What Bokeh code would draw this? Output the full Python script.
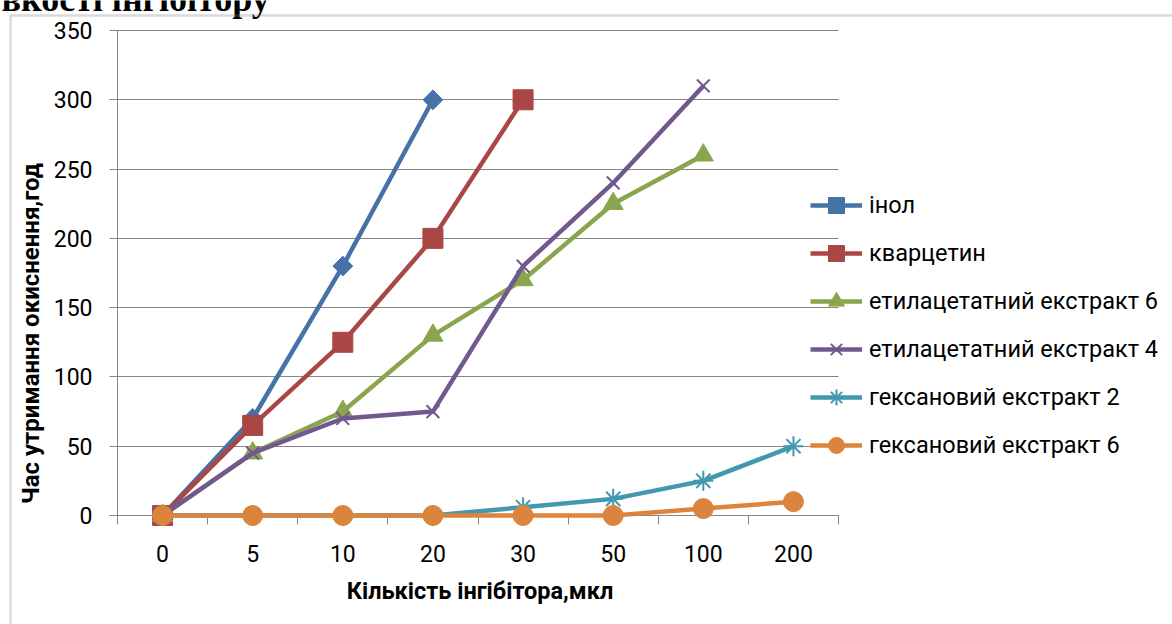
import numpy as np
from bokeh.plotting import figure
from bokeh.models import (Range1d, LinearAxis, FixedTicker, Legend, LegendItem,
                          Label, BoxAnnotation)
from bokeh.embed import file_html
from bokeh.resources import INLINE

# Inhibitor amount (categories on the x axis), µl
cats = ["0", "5", "10", "20", "30", "50", "100", "200"]

# Oxidation-retention time, hours
inol = [0, 70, 180, 300]
kvarcetyn = [0, 65, 125, 200, 300]
etyl6 = [0, 45, 75, 130, 170, 225, 260]
etyl4 = [0, 45, 70, 75, 180, 240, 310]
heks2 = [0, 0, 0, 0, 6, 12, 25, 50]
heks6 = [0, 0, 0, 0, 0, 0, 5, 10]

names = ["інол", "кварцетин", "етилацетатний екстракт 6",
         "етилацетатний екстракт 4", "гексановий екстракт 2",
         "гексановий екстракт 6"]
yticks = [0, 50, 100, 150, 200, 250, 300, 350]
ymax = 350

W, H = 1172, 624
# plot-area edges in page pixels
PL, PR, PT, PB = 117, 838, 30, 515
GREY = "#868686"
FONT = "Roboto"

n = len(cats)
xpx = (PR - PL) / n          # pixels per category band
ypx = (PB - PT) / ymax       # pixels per hour

# each category occupies one unit band; points sit in the band centres
centres = [i + 0.5 for i in range(n)]

# the frame covers the whole page so that axes, legend and captions
# can be placed freely around the plot area
p = figure(width=W, height=H, output_backend="svg", toolbar_location=None,
           x_range=Range1d(-PL / xpx, (W - PL) / xpx),
           y_range=Range1d(ymax - (H - PT) / ypx, ymax + PT / ypx),
           x_axis_location=None, y_axis_location=None,
           min_border=0)
p.outline_line_color = None
p.background_fill_color = "white"
p.border_fill_color = "white"
for g in p.grid:
    g.visible = False

# value axis; its inward ticks double as horizontal grid lines
yaxis = LinearAxis(fixed_location=0, bounds=(0, ymax),
                   ticker=FixedTicker(ticks=yticks), level="underlay")
yaxis.axis_line_color = GREY
yaxis.major_tick_line_color = GREY
yaxis.major_tick_out = 8
yaxis.major_tick_in = PR - PL
yaxis.minor_tick_line_color = None
yaxis.major_label_text_font = FONT
yaxis.major_label_text_font_size = "23px"
yaxis.major_label_text_color = "black"
yaxis.major_label_standoff = 17
p.add_layout(yaxis, "left")

# category axis: labels centred in each band, ticks on the band edges
xaxis = LinearAxis(fixed_location=0, bounds=(0, n),
                   ticker=FixedTicker(ticks=centres, minor_ticks=list(range(n + 1))),
                   major_label_overrides={c: lab for c, lab in zip(centres, cats)},
                   level="underlay")
xaxis.axis_line_color = GREY
xaxis.major_tick_line_color = None
xaxis.major_tick_out = 0
xaxis.major_tick_in = 0
xaxis.minor_tick_line_color = GREY
xaxis.minor_tick_out = 9
xaxis.minor_tick_in = 0
xaxis.major_label_text_font = FONT
xaxis.major_label_text_font_size = "23px"
xaxis.major_label_text_color = "black"
xaxis.major_label_standoff = 20
p.add_layout(xaxis, "below")

series = [
    (inol, "#4572A7", dict(marker="square", size=14, angle=np.pi / 4)),
    (kvarcetyn, "#AA4643", dict(marker="square", size=20)),
    (etyl6, "#89A54E", dict(marker="triangle", size=20)),
    (etyl4, "#71588F", dict(marker="x", size=18, line_width=2)),
    (heks2, "#4198AF", dict(marker="asterisk", size=20, line_width=2)),
    (heks6, "#DB843D", dict(marker="circle", size=20)),
]

items = []
for name, (vals, color, mk) in zip(names, series):
    xs = centres[:len(vals)]
    ln = p.line(xs, vals, line_color=color, line_width=4.5)
    kw = dict(mk)
    lw = kw.pop("line_width", 1)
    sc = p.scatter(xs, vals, fill_color=color, line_color=color,
                   line_width=lw, **kw)
    items.append(LegendItem(label=name, renderers=[ln, sc]))

legend = Legend(items=items, location=(810, H - 465),
                orientation="vertical",
                glyph_width=52, glyph_height=40, label_height=40,
                spacing=8, padding=0, margin=0, label_standoff=7,
                label_text_font=FONT, label_text_font_size="23.5px",
                label_text_color="black",
                background_fill_alpha=0, border_line_color=None)
p.add_layout(legend, "center")

# axis captions
p.add_layout(Label(x=30, y=H - 333, x_units="screen", y_units="screen",
                   text="Час утримання окиснення,год", angle=np.pi / 2,
                   text_align="center", text_baseline="middle",
                   text_font=FONT, text_font_style="bold",
                   text_font_size="24px", text_color="black"))
p.add_layout(Label(x=(PL + PR) / 2 + 2, y=H - 590, x_units="screen", y_units="screen",
                   text="Кількість інгібітора,мкл",
                   text_align="center", text_baseline="middle",
                   text_font=FONT, text_font_style="bold",
                   text_font_size="23.5px", text_color="black"))

# heading of the page, cropped at the top edge
p.add_layout(Label(x=1, y=H + 2, x_units="screen", y_units="screen",
                   text="вкості інгібітору", text_align="left",
                   text_baseline="alphabetic",
                   text_font="Liberation Serif", text_font_style="bold",
                   text_font_size="36px", text_color="black"))

# chart-area border
p.add_layout(BoxAnnotation(left=10, right=W + 50, top=H - 15, bottom=-50,
                           left_units="screen", right_units="screen",
                           top_units="screen", bottom_units="screen",
                           fill_alpha=0, line_color=GREY, line_width=2.5))

open("out.html", "w").write(file_html(p, INLINE))
